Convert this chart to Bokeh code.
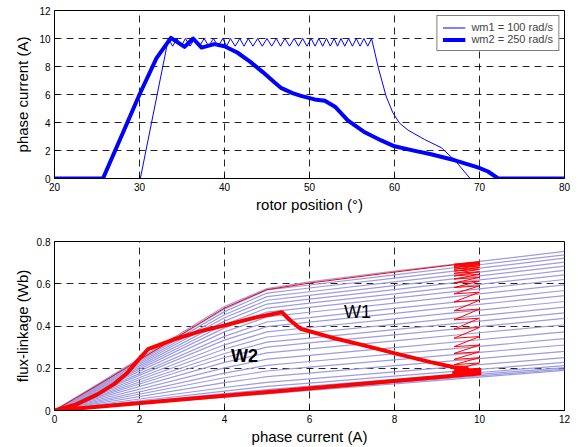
from bokeh.plotting import figure
from bokeh.layouts import column
from bokeh.models import FixedTicker, Legend, LegendItem, Range1d, Label
from bokeh.embed import file_html
from bokeh.resources import INLINE

FONT = "Liberation Sans"

# ---------------- top chart data: phase current vs rotor position ----------------
wm1_pos = [20, 30.1, 33.4, 33.9, 34.4, 34.9, 35.4, 35.95, 36.5, 37.05, 37.6, 38.15, 38.7,
           39.25, 39.8, 40.25, 40.7, 41.25, 41.8, 42.3, 42.8, 43.35, 43.9, 44.45, 45.0,
           45.55, 46.1, 46.6, 47.1, 47.65, 48.2, 48.7, 49.2, 49.7, 50.2, 50.65, 51.1,
           51.55, 52.0, 52.45, 52.9, 53.3, 53.7, 54.15, 54.6, 55.05, 55.5, 55.95, 56.4,
           56.85, 57.3, 58.1, 59.0, 59.8, 60.6, 61.6, 63.5, 65.5, 67.1, 68.9, 80]
wm1_cur = [0, 0, 10, 9.45, 10, 9.45, 10, 9.45, 10, 9.45, 10, 9.45, 10,
           9.45, 10, 9.45, 10, 9.45, 10, 9.45, 10, 9.45, 10, 9.45, 10,
           9.45, 10, 9.45, 10, 9.45, 10, 9.45, 10, 9.45, 10, 9.45, 10,
           9.45, 10, 9.45, 10, 9.45, 10, 9.45, 10, 9.45, 10, 9.45, 10,
           9.45, 10, 7.9, 5.9, 4.7, 3.95, 3.45, 2.8, 2.2, 1.3, 0.0, 0]

wm2_pos = [20, 25.7, 28, 30, 32, 33.7, 35.3, 36.3, 37.3, 38.8, 40, 41.5, 43, 44.5, 46,
           46.7, 48, 49, 50.6, 51.8, 53.0, 54.5, 56.5, 58.5, 60, 62.4, 64.3, 67.1, 69.8,
           71.0, 72.2, 80]
wm2_cur = [0, 0, 3.2, 6.0, 8.6, 10.05, 9.4, 10.0, 9.35, 9.6, 9.45, 9.0, 8.35, 7.6, 6.8,
           6.45, 6.1, 5.9, 5.65, 5.55, 5.13, 4.15, 3.3, 2.7, 2.3, 1.97, 1.73, 1.3, 0.8,
           0.5, 0.0, 0]

top_xticks = [20, 30, 40, 50, 60, 70, 80]
top_yticks = [0, 2, 4, 6, 8, 10, 12]

# ---------------- bottom chart data: flux-linkage vs phase current ----------------
psi_currents = [0, 4, 5, 6, 8, 10, 12]
psi_0A = [0] * 26
psi_4A = [0.063, 0.068, 0.073, 0.080, 0.092, 0.109, 0.132, 0.155, 0.177, 0.202, 0.228, 0.251, 0.270,
          0.291, 0.311, 0.333, 0.351, 0.372, 0.391, 0.407, 0.423, 0.439, 0.453, 0.468, 0.480, 0.492]
psi_5A = [0.079, 0.085, 0.091, 0.099, 0.114, 0.133, 0.160, 0.187, 0.214, 0.243, 0.273, 0.300, 0.324,
          0.348, 0.372, 0.397, 0.419, 0.443, 0.466, 0.485, 0.504, 0.522, 0.539, 0.556, 0.571, 0.577]
psi_6A = [0.095, 0.101, 0.107, 0.115, 0.130, 0.150, 0.177, 0.205, 0.232, 0.261, 0.292, 0.320, 0.343,
          0.368, 0.393, 0.418, 0.440, 0.465, 0.488, 0.508, 0.527, 0.545, 0.562, 0.580, 0.594, 0.609]
psi_8A = [0.126, 0.132, 0.139, 0.147, 0.163, 0.183, 0.212, 0.240, 0.268, 0.298, 0.330, 0.358, 0.383,
          0.408, 0.434, 0.460, 0.483, 0.508, 0.532, 0.552, 0.572, 0.591, 0.609, 0.627, 0.642, 0.660]
psi_10A = [0.158, 0.164, 0.171, 0.180, 0.195, 0.217, 0.246, 0.275, 0.304, 0.335, 0.368, 0.397, 0.423,
           0.449, 0.475, 0.502, 0.525, 0.552, 0.576, 0.597, 0.618, 0.637, 0.655, 0.674, 0.690, 0.706]
psi_12A = [0.190, 0.196, 0.203, 0.212, 0.228, 0.250, 0.280, 0.310, 0.340, 0.372, 0.406, 0.436, 0.462,
           0.489, 0.516, 0.544, 0.568, 0.595, 0.620, 0.642, 0.663, 0.683, 0.702, 0.721, 0.737, 0.753]

# W1 loop (wm1 = 100 rad/s)
w1_cur = [0, 10, 9.4, 10, 9.4, 10, 9.4, 10, 9.4, 10, 9.4, 10, 9.4, 10, 9.4, 10, 9.4, 10,
          9.4, 10, 9.4, 10, 9.4, 10, 9.4, 10, 9.4, 10, 9.4, 10, 9.4, 10, 9.4, 10, 9.4, 10,
          9.4, 10, 9.4, 10, 9.4, 10, 9.4, 10, 9.4, 10, 9.4, 10,
          9, 8, 6, 5, 4, 3, 2, 1, 0]
w1_psi = [0, 0.175, 0.167, 0.20, 0.192, 0.225, 0.217, 0.25, 0.242, 0.278, 0.27, 0.31, 0.302, 0.35,
          0.342, 0.393, 0.385, 0.437, 0.429, 0.48, 0.472, 0.522, 0.514, 0.56, 0.552, 0.59, 0.582,
          0.612, 0.604, 0.63, 0.622, 0.645, 0.637, 0.657, 0.649, 0.668, 0.66, 0.677, 0.669, 0.685,
          0.677, 0.691, 0.683, 0.696, 0.688, 0.70, 0.692, 0.704,
          0.68, 0.655, 0.603, 0.572, 0.485, 0.362, 0.24, 0.118, 0]

# W2 loop (wm2 = 250 rad/s)
w2_cur = [0, 10.0, 9.4, 10.0, 9.45, 9.7, 9.4, 8.85, 8.06, 7.28, 6.49, 5.79, 5.55, 5.35, 4.77,
          3.98, 3.5, 2.8, 2.2, 1.95, 1.7, 1.4, 1.0, 0.5, 0]
w2_psi = [0, 0.175, 0.178, 0.188, 0.19, 0.2, 0.205, 0.229, 0.268, 0.308, 0.347, 0.387, 0.426, 0.465,
          0.442, 0.402, 0.379, 0.336, 0.29, 0.235, 0.175, 0.125, 0.075, 0.028, 0]

bot_xticks = [0, 2, 4, 6, 8, 10, 12]
bot_yticks = [0, 0.2, 0.4, 0.6, 0.8]
bot_ylabels = {0: "0", 0.2: "0.2", 0.4: "0.4", 0.6: "0.6", 0.8: "0.8"}


def style(p, xticks, yticks, xlabel, ylabel, ystand):
    p.xaxis.ticker = FixedTicker(ticks=xticks)
    p.yaxis.ticker = FixedTicker(ticks=yticks)
    p.xaxis.axis_label = xlabel
    p.yaxis.axis_label = ylabel
    for ax in (p.xaxis[0], p.yaxis[0]):
        ax.major_tick_in = 4
        ax.major_tick_out = 0
        ax.minor_tick_line_color = None
        ax.major_tick_line_color = "black"
        ax.axis_line_color = "black"
        ax.major_label_text_font = FONT
        ax.major_label_text_font_size = "10px"
        ax.major_label_text_color = "black"
        ax.major_label_standoff = 4
        ax.axis_label_text_font = FONT
        ax.axis_label_text_font_size = "15px"
        ax.axis_label_text_font_style = "normal"
        ax.axis_label_text_color = "black"
    p.xaxis.axis_label_standoff = 2
    p.yaxis.axis_label_standoff = ystand
    for g in (p.xgrid[0], p.ygrid[0]):
        g.ticker = FixedTicker(ticks=xticks if g.dimension == 0 else yticks)
        g.grid_line_color = "black"
        g.grid_line_alpha = 0.85
        g.grid_line_dash = "7 5"
        g.grid_line_width = 1
    p.outline_line_color = "black"
    p.outline_line_alpha = 1
    p.outline_line_width = 1
    p.background_fill_color = "white"
    p.border_fill_color = "white"


# ---------------- top figure ----------------
p1 = figure(frame_width=510, frame_height=168, output_backend="svg", toolbar_location=None,
            x_range=Range1d(20, 80), y_range=Range1d(0, 12),
            min_border_left=54, min_border_right=14, min_border_top=10, min_border_bottom=44)
style(p1, top_xticks, top_yticks, "rotor position (\u00b0)", "phase current (A)", 5)
r1 = p1.line(wm1_pos, wm1_cur, line_color="#0000ff", line_width=1)
r2 = p1.line(wm2_pos, wm2_cur, line_color="#0000ff", line_width=4, line_join="round")
leg = Legend(items=[LegendItem(label="wm1 = 100 rad/s", renderers=[r1]),
                    LegendItem(label="wm2 = 250 rad/s", renderers=[r2])],
             location="top_right")
leg.margin = 5
leg.padding = 5
leg.spacing = 0
leg.glyph_width = 23
leg.glyph_height = 11
leg.label_height = 11
leg.label_standoff = 6
leg.label_text_font = FONT
leg.label_text_font_size = "11px"
leg.border_line_color = "black"
leg.border_line_width = 1
leg.background_fill_alpha = 1
p1.add_layout(leg)

# ---------------- bottom figure ----------------
p2 = figure(frame_width=510, frame_height=169, output_backend="svg", toolbar_location=None,
            x_range=Range1d(0, 12), y_range=Range1d(0, 0.8),
            min_border_left=54, min_border_right=14, min_border_top=19, min_border_bottom=37)
style(p2, bot_xticks, bot_yticks, "phase current (A)", "flux-linkage (Wb)", 3)
p2.yaxis.major_label_overrides = bot_ylabels

cols = [psi_0A, psi_4A, psi_5A, psi_6A, psi_8A, psi_10A, psi_12A]
xs = [psi_currents for _ in psi_12A]
ys = [[c[k] for c in cols] for k in range(len(psi_12A))]
p2.multi_line(xs, ys, line_color="#9c9ce0", line_width=1.2)

p2.line(w1_cur, w1_psi, line_color="#ff0000", line_width=1)
p2.line(w2_cur, w2_psi, line_color="#ff0000", line_width=4, line_join="round")

p2.add_layout(Label(x=7.13, y=0.464, text="W1", text_font=FONT, text_font_size="18px",
                    text_align="center", text_baseline="middle", text_color="black"))
p2.add_layout(Label(x=4.47, y=0.26, text="W2", text_font=FONT, text_font_size="18px",
                    text_font_style="bold", text_align="center", text_baseline="middle",
                    text_color="black"))

layout = column(p1, p2, spacing=0)
open("out.html", "w").write(file_html(layout, INLINE))
